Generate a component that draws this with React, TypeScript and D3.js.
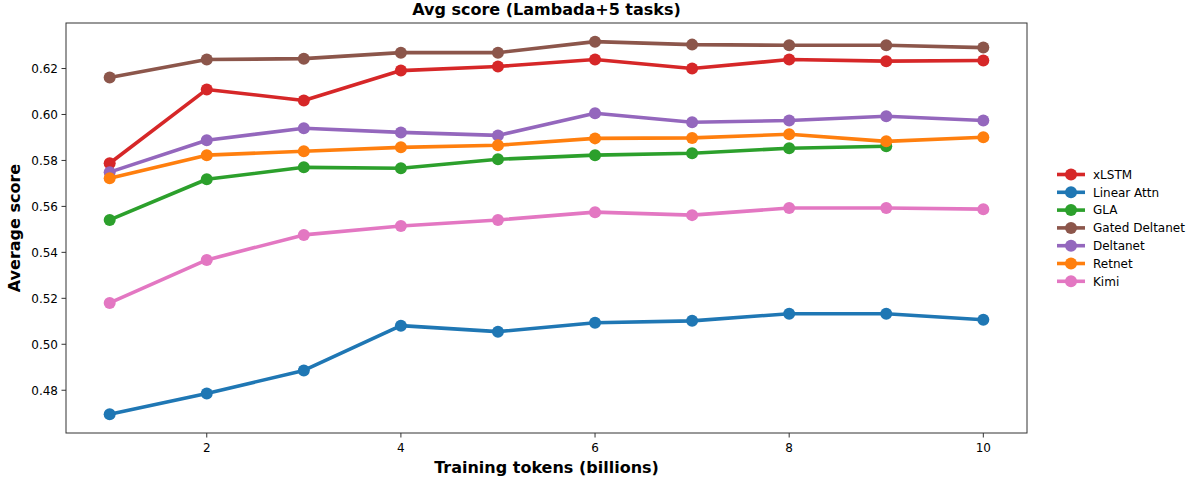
import React from "react";
import * as d3 from "d3";

const tokens = [1, 2, 3, 4, 5, 6, 7, 8, 9, 10];
const xTicks = [2, 4, 6, 8, 10];
const yTicks = [0.48, 0.5, 0.52, 0.54, 0.56, 0.58, 0.6, 0.62];

const xlstm = [0.5788, 0.6109, 0.6061, 0.6191, 0.6209, 0.6239, 0.62, 0.6239, 0.6232, 0.6235];
const linearAttn = [0.4695, 0.4786, 0.4886, 0.5081, 0.5055, 0.5094, 0.5102, 0.5133, 0.5133, 0.5107];
const gla = [0.5541, 0.5718, 0.577, 0.5766, 0.5805, 0.5823, 0.5831, 0.5853, 0.5862, null];
const gatedDeltanet = [0.6161, 0.6239, 0.6243, 0.6269, 0.6269, 0.6317, 0.6304, 0.6301, 0.6301, 0.6291];
const deltanet = [0.5749, 0.5888, 0.594, 0.5922, 0.5909, 0.6005, 0.5966, 0.5974, 0.5992, 0.5974];
const retnet = [0.5723, 0.5823, 0.584, 0.5857, 0.5866, 0.5896, 0.5898, 0.5914, 0.5883, 0.5901];
const kimi = [0.518, 0.5367, 0.5476, 0.5515, 0.5541, 0.5575, 0.5562, 0.5593, 0.5593, 0.5588];

const seriesNames = ["xLSTM", "Linear Attn", "GLA", "Gated Deltanet", "Deltanet", "Retnet", "Kimi"];
const seriesValues = [xlstm, linearAttn, gla, gatedDeltanet, deltanet, retnet, kimi];
const seriesColors = ["#d62728", "#1f77b4", "#2ca02c", "#8c564b", "#9467bd", "#ff7f0e", "#e377c2"];

const W = 1195;
const H = 479;
const M = { left: 66, right: 1027, top: 23, bottom: 433 };
const FONT = "DejaVu Sans, sans-serif";

export default function App() {
  const all = seriesValues.flat().filter((v) => v != null) as number[];
  const yMin = d3.min(all)!;
  const yMax = d3.max(all)!;
  const yPad = (yMax - yMin) * 0.05;
  const xPad = (10 - 1) * 0.05;
  const x = d3.scaleLinear().domain([1 - xPad, 10 + xPad]).range([M.left, M.right]);
  const y = d3.scaleLinear().domain([yMin - yPad, yMax + yPad]).range([M.bottom, M.top]);

  const line = d3
    .line<[number, number | null]>()
    .defined((d) => d[1] != null)
    .x((d) => x(d[0]))
    .y((d) => y(d[1] as number));

  const legendX = 1057;
  const legendY0 = 174.5;
  const legendDy = 17.8;

  return (
    <svg
      width={W}
      height={H}
      style={{ position: "absolute", left: 0, top: 0, background: "#fff" }}
      fontFamily={FONT}
    >
      <rect x={0} y={0} width={W} height={H} fill="#fff" />
      <text x={(M.left + M.right) / 2} y={15} textAnchor="middle" fontSize={16} fontWeight="bold">
        Avg score (Lambada+5 tasks)
      </text>

      {seriesValues.map((vals, i) => {
        const pts = tokens.map((t, j) => [t, vals[j]] as [number, number | null]);
        return (
          <g key={seriesNames[i]}>
            <path d={line(pts) || ""} fill="none" stroke={seriesColors[i]} strokeWidth={3.6} strokeLinejoin="round" />
            {pts
              .filter((p) => p[1] != null)
              .map((p) => (
                <circle key={p[0]} cx={x(p[0])} cy={y(p[1] as number)} r={6} fill={seriesColors[i]} />
              ))}
          </g>
        );
      })}

      <rect
        x={M.left}
        y={M.top}
        width={M.right - M.left}
        height={M.bottom - M.top}
        fill="none"
        stroke="#333"
        strokeWidth={1}
      />

      {xTicks.map((t) => (
        <g key={t}>
          <line x1={x(t)} x2={x(t)} y1={M.bottom} y2={M.bottom + 4.5} stroke="#333" />
          <text x={x(t)} y={M.bottom + 19} textAnchor="middle" fontSize={12}>
            {t}
          </text>
        </g>
      ))}
      {yTicks.map((t) => (
        <g key={t}>
          <line x1={M.left - 4.5} x2={M.left} y1={y(t)} y2={y(t)} stroke="#333" />
          <text x={M.left - 8} y={y(t) + 4.3} textAnchor="end" fontSize={12}>
            {t.toFixed(2)}
          </text>
        </g>
      ))}

      <text x={(M.left + M.right) / 2} y={473} textAnchor="middle" fontSize={16} fontWeight="bold">
        Training tokens (billions)
      </text>
      <text
        transform={`translate(20, ${(M.top + M.bottom) / 2}) rotate(-90)`}
        textAnchor="middle"
        fontSize={16}
        fontWeight="bold"
      >
        Average score
      </text>

      {seriesNames.map((name, i) => {
        const ly = legendY0 + i * legendDy;
        return (
          <g key={name}>
            <line x1={legendX} x2={legendX + 28} y1={ly} y2={ly} stroke={seriesColors[i]} strokeWidth={3.6} />
            <circle cx={legendX + 14} cy={ly} r={6} fill={seriesColors[i]} />
            <text x={legendX + 36} y={ly + 4.3} fontSize={12}>
              {name}
            </text>
          </g>
        );
      })}
    </svg>
  );
}
